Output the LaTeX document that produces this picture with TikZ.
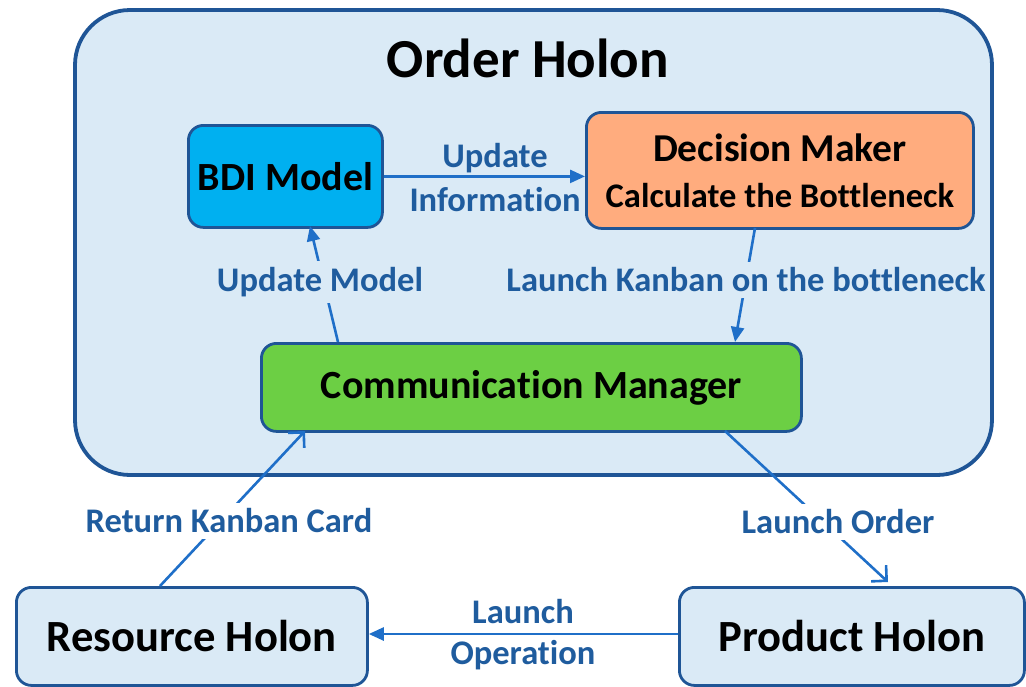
\documentclass[tikz,border=0pt]{standalone}
\usepackage{fontspec}
\setmainfont{Carlito}[Ligatures=NoCommon]
\usetikzlibrary{arrows.meta,positioning}
\definecolor{holonfill}{HTML}{DAEAF6}
\definecolor{edgeblue}{HTML}{1F5596}
\definecolor{arrowblue}{HTML}{1F6FC8}
\definecolor{labelblue}{HTML}{1F5C9E}
\definecolor{bdifill}{HTML}{00B0F0}
\definecolor{decfill}{HTML}{FFAC7E}
\definecolor{comfill}{HTML}{6CCF44}
\tikzset{
  box/.style={draw=edgeblue, line width=2.8pt, rounded corners=15pt, inner sep=0pt,
    font=\bfseries, text=black, anchor=north west},
  flow/.style={draw=arrowblue, line width=2.6pt, -{Triangle[length=15pt,width=13pt]}},
  openflow/.style={draw=arrowblue, line width=2.6pt, -{Straight Barb[length=11pt,width=22pt,line width=2.6pt]}},
  lbl/.style={text=labelblue, font=\bfseries\fontsize{34.5}{40}\selectfont, align=center,
    inner sep=1pt},
  onpath/.style={lbl, inner xsep=2pt, inner ysep=6pt, fill=#1},
  onpath/.default=white
}
\begin{document}
\begin{tikzpicture}[x=1pt,y=-1pt]
\useasboundingbox (0,0) rectangle (1026,686);
% outer holon
\draw[draw=edgeblue, line width=3.8pt, fill=holonfill, rounded corners=55pt]
  (75,10) rectangle (992,475);
\node[font=\bfseries\fontsize{55}{62}\selectfont] (title) at (528,58) {Order Holon};
% inner agents
\node[box, fill=bdifill, minimum width=194pt, minimum height=102pt,
  font=\bfseries\fontsize{40}{46}\selectfont] (bdi) at (187,124) {BDI Model};
\node[box, fill=decfill, minimum width=387pt, minimum height=116pt, align=center,
  font=\bfseries\fontsize{39.5}{46}\selectfont] (dec) at (585,111)
  {Decision Maker\\{\fontsize{34.5}{46}\selectfont Calculate the Bottleneck}};
\node[box, fill=comfill, minimum width=540pt, minimum height=88pt,
  font=\bfseries\fontsize{40}{46}\selectfont] (com) at (260,342) {Communication Manager};
% holons outside
\node[box, fill=holonfill, minimum width=351pt, minimum height=98pt,
  font=\bfseries\fontsize{44.6}{50}\selectfont] (res) at (15,586) {Resource Holon};
\node[box, fill=holonfill, minimum width=345pt, minimum height=98pt,
  font=\bfseries\fontsize{44.6}{50}\selectfont] (prod) at (678,586) {Product Holon};
% connectors
\coordinate (bdiS) at (310,226);
\coordinate (comN1) at (338,342);
\coordinate (decS) at (755,228);
\coordinate (comN2) at (735,342);
\coordinate (comS1) at (305,431);
\coordinate (resN) at (160,586);
\coordinate (comS2) at (725,431);
\coordinate (prodN) at (888,582);
\draw[flow] (bdi.east) -- (bdi.east -| dec.west);
\draw[flow] (decS) -- (comN2);
\draw[flow] (comN1) -- (bdiS);
\draw[openflow] (resN) -- (comS1);
\draw[openflow] (comS2) -- (prodN);
\draw[flow] (prod.west |- 0,634) -- (res.east |- 0,634);
% connector labels (those lying across a connector hide it)
\node[lbl] (l1) at (495,158) {Update};
\node[lbl] (l2) at (495,200) {Information};
\node[onpath=holonfill] (l3) at (746,280) {Launch Kanban on the bottleneck};
\node[onpath=holonfill] (l4) at (320,282) {Update Model};
\node[onpath] (l5) at (229,521) {Return Kanban Card};
\node[onpath] (l6) at (838,522) {Launch Order};
\node[lbl] (l7) at (523,612) {Launch};
\node[lbl] (l8) at (523,655) {Operation};
\end{tikzpicture}
\end{document}
